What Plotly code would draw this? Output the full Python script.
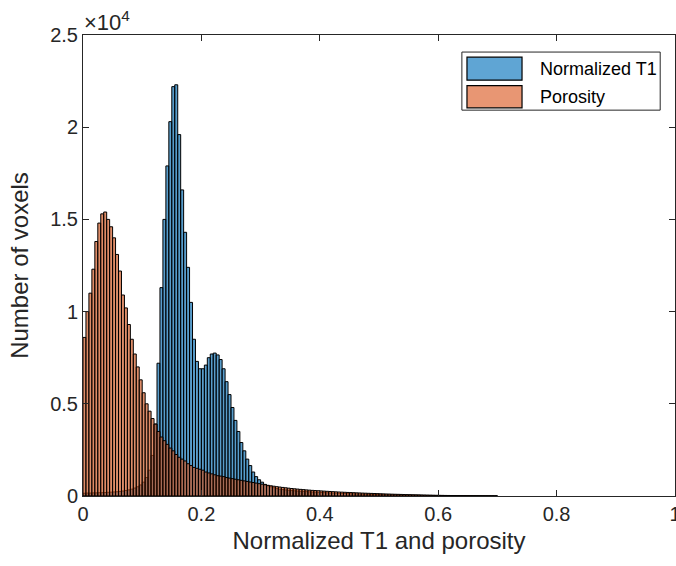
import numpy as np
import plotly.graph_objects as go

# ---- data (counts per bin, bin width 0.005 starting at 0) ----
BIN_START = 0.0
BIN_WIDTH = 0.005

t1_counts = [
    150, 160, 160, 170, 170, 180, 180, 190, 200, 210, 220, 230, 250, 270, 300, 330,
    370, 430, 500, 600, 750, 1000, 1400, 2200,
    3900, 7200, 11300, 15000, 17900, 20300, 22200, 22300, 19600, 16600,
    14300, 12400, 10500, 8500, 7300, 6900, 6900, 7100, 7500, 7700, 7750, 7650,
    7400, 6900, 6200, 5500, 4800, 4100, 3500, 2900, 2450, 2000, 1650, 1300,
    1050, 880, 750, 630, 550, 500, 450, 400, 370, 350, 330, 310,
    295, 282, 270, 258, 247, 236, 226, 216, 207, 198,
    190, 182, 174, 167, 160, 153, 146, 140, 134, 128,
    122, 117, 112, 107, 102, 97, 93, 89, 85, 81,
    77, 73, 70, 66, 63, 60, 57, 54, 51, 48,
    45, 43, 41, 39, 37, 35, 33, 31, 29, 27,
    25, 23, 21, 19, 17, 16, 15, 14, 13, 12, 11, 10, 9, 8, 7, 6, 5, 4, 3, 2,
]

porosity_counts = [
    8600, 10000, 11000, 12300, 13800, 14800, 15300, 15400, 15000, 14600,
    14000, 13100, 12200, 10900, 10200, 9300, 8500, 7700, 7000, 6300,
    5600, 5000, 4600, 4200, 3900, 3500, 3200, 3000, 2800, 2600,
    2450, 2250, 2100, 2000, 1900, 1750, 1650, 1550, 1500, 1450,
    1400, 1300, 1250, 1200, 1150, 1100, 1080, 1050, 1000, 970,
    940, 910, 880, 850, 820, 790, 760, 730, 700, 670,
    640, 610, 580, 555, 530, 505, 485, 465, 445, 425,
    405, 390, 375, 360, 345, 330, 318, 306, 295, 285,
    275, 265, 255, 245, 235, 225, 217, 209, 201, 193,
    186, 179, 172, 165, 158, 152, 146, 140, 134, 128,
    122, 116, 110, 105, 100, 95, 90, 85, 80, 76,
    72, 68, 64, 60, 56, 52, 48, 45, 42, 39,
    36, 33, 30, 28, 26, 24, 22, 20, 18, 16,
    14, 12, 11, 10, 9, 8, 7, 6, 5, 4,
]

series_names = ["Normalized T1", "Porosity"]
x_tickvals = [0, 0.2, 0.4, 0.6, 0.8, 1]
x_ticktext = ["0", "0.2", "0.4", "0.6", "0.8", "1"]
y_tickvals = [0, 5000, 10000, 15000, 20000, 25000]
y_ticktext = ["0", "0.5", "1", "1.5", "2", "2.5"]


def centers(n):
    return BIN_START + BIN_WIDTH * (np.arange(n) + 0.5)


FONT = "Liberation Sans, Arial, sans-serif"
AX = "#262626"
FILLS = ["rgba(0,105,175,0.65)", "rgba(205,80,25,0.65)"]
SWATCH = ["rgb(95,165,212)", "rgb(232,150,115)"]

fig = go.Figure()
for counts, name, fill in zip([t1_counts, porosity_counts], series_names, FILLS):
    fig.add_trace(go.Bar(
        x=centers(len(counts)), y=counts, width=BIN_WIDTH, name=name,
        marker=dict(color=fill, line=dict(color="black", width=1.0)),
        showlegend=False,
    ))

# manual MATLAB-style legend (paper coordinates)
shapes = [dict(type="rect", xref="paper", yref="paper", x0=0.640, x1=0.975, y0=0.837, y1=0.963,
               line=dict(color=AX, width=1), fillcolor="white", layer="above")]
annotations = []
rows = [(0.952, 0.902, 0.927), (0.890, 0.842, 0.866)]
for (top, bot, mid), name, sw in zip(rows, series_names, SWATCH):
    shapes.append(dict(type="rect", xref="paper", yref="paper", x0=0.6486, x1=0.7416, y0=bot, y1=top,
                       line=dict(color="black", width=1.2), fillcolor=sw, layer="above"))
    annotations.append(dict(text=name, xref="paper", yref="paper", x=0.768, y=mid,
                            xanchor="left", yanchor="middle", showarrow=False,
                            font=dict(size=18, family=FONT, color="black")))

annotations.append(dict(
    text="×10<sup>4</sup>", xref="paper", yref="paper", x=-0.001, y=1.0,
    xanchor="left", yanchor="bottom", showarrow=False, yshift=-2,
    font=dict(size=22, family=FONT, color=AX),
))

fig.update_layout(
    width=676, height=566,
    margin=dict(l=83, r=1, t=35, b=70),
    barmode="overlay",
    plot_bgcolor="white", paper_bgcolor="white",
    font=dict(family=FONT, color=AX),
    showlegend=False,
    xaxis=dict(
        range=[0, 1], tickvals=x_tickvals, ticktext=x_ticktext, automargin=False,
        ticklabeloverflow="allow",
        ticks="inside", ticklen=6, tickcolor=AX,
        showline=True, linecolor=AX, linewidth=1, mirror="ticks",
        showgrid=False, zeroline=False,
        tickfont=dict(size=20, family=FONT, color=AX),
        title=dict(text="Normalized T1 and porosity", font=dict(size=24, family=FONT, color=AX), standoff=8),
    ),
    yaxis=dict(
        range=[0, 25000], tickvals=y_tickvals, ticktext=y_ticktext, automargin=False,
        ticks="inside", ticklen=6, tickcolor=AX,
        showline=True, linecolor=AX, linewidth=1, mirror="ticks",
        showgrid=False, zeroline=False,
        tickfont=dict(size=20, family=FONT, color=AX),
        title=dict(text="Number of voxels", font=dict(size=24, family=FONT, color=AX), standoff=14),
    ),
    shapes=shapes,
    annotations=annotations,
)

fig.write_html("out.html")
